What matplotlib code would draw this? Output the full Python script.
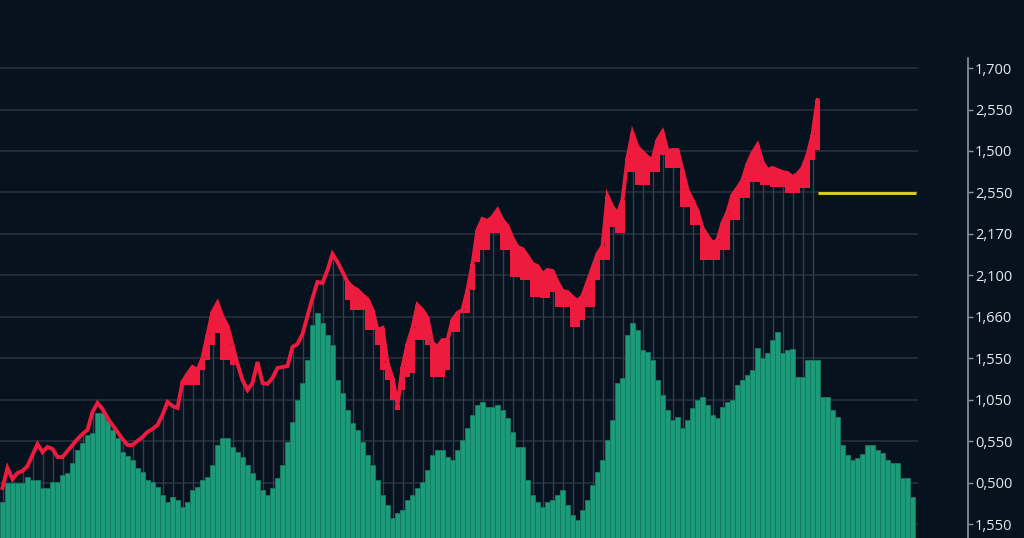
import numpy as np
import matplotlib
matplotlib.use("Agg")
import matplotlib.pyplot as plt

# heights on a 0..538 scale, one value per bar slot
volume = [36, 55, 55, 55, 55, 61, 58, 58, 50, 50,
          56, 56, 63, 65, 75, 88, 95, 103, 105, 125,
          125, 118, 108, 100, 86, 82, 78, 70, 66, 58,
          56, 51, 43, 36, 41, 38, 31, 36, 48, 51,
          58, 61, 73, 93, 100, 100, 91, 86, 81, 73,
          65, 58, 48, 43, 50, 60, 73, 96, 116, 138,
          155, 178, 213, 225, 215, 203, 193, 158, 145, 128,
          115, 108, 96, 83, 73, 58, 43, 33, 20, 25,
          28, 38, 43, 50, 56, 68, 83, 88, 88, 81,
          78, 88, 98, 110, 123, 133, 136, 131, 131, 133,
          128, 120, 106, 91, 91, 58, 43, 36, 31, 36,
          38, 43, 48, 33, 23, 18, 28, 38, 53, 66,
          78, 98, 118, 155, 160, 203, 215, 208, 188, 186,
          178, 158, 143, 128, 118, 121, 110, 118, 130, 138,
          141, 133, 123, 120, 131, 136, 138, 153, 158, 163,
          168, 190, 180, 185, 198, 206, 185, 188, 189, 161,
          161, 178, 178, 178, 141, 141, 128, 121, 93, 83,
          78, 80, 84, 93, 93, 88, 85, 78, 75, 75,
          60, 60, 41]

price = [50, 70, 59, 65, 67, 72, 83, 94, 86, 91,
         89, 81, 81, 87, 93, 99, 104, 108, 126, 135,
         129, 120, 113, 106, 99, 93, 93, 97, 101, 106,
         109, 113, 123, 136, 132, 130, 156, 164, 171, 168,
         180, 203, 226, 235, 221, 212, 193, 174, 158, 148,
         155, 176, 155, 154, 160, 170, 171, 172, 191, 194,
         204, 222, 240, 256, 255, 268, 284, 276, 266, 256,
         251, 248, 243, 239, 228, 208, 210, 175, 160, 133,
         171, 194, 210, 233, 228, 220, 195, 191, 198, 198,
         218, 225, 228, 248, 274, 308, 319, 317, 321, 328,
         318, 312, 300, 291, 289, 282, 274, 272, 264, 268,
         267, 256, 247, 246, 241, 237, 242, 256, 270, 284,
         292, 342, 331, 324, 338, 380, 405, 391, 386, 381,
         378, 398, 406, 387, 388, 388, 368, 348, 338, 327,
         310, 302, 295, 298, 315, 326, 343, 350, 358, 374,
         385, 393, 376, 368, 370, 368, 366, 365, 361, 364,
         370, 383, 403, 438]

low = (price[:36]
       + [153, 153, 153, 153, 168, 178, 193, 205, 178, 178, 173, 173]
       + price[48:69]
       + [238, 228, 228, 228, 208, 208, 193, 168, 158, 138, 128,
          148, 161, 165, 198, 198, 193, 161, 161, 161, 168,
          206, 206, 225, 225, 248, 276, 288, 288, 305, 305,
          288, 288, 261, 261, 258, 258, 241, 241, 240, 240,
          246, 231, 231, 231, 211, 211, 218, 231, 231, 258,
          278, 278, 311, 305, 305, 366, 366, 353, 353, 353,
          366, 366, 383, 370, 370, 370, 331, 331, 313, 313,
          278, 278, 278, 278, 288, 288, 318, 318, 340, 340,
          356, 356, 353, 353, 351, 351, 351, 345, 345, 345,
          350, 350, 378, 388])

tick_labels = ["1,550", "0,500", "0,550", "1,050", "1,550", "1,660",
               "2,100", "2,170", "2,550", "1,500", "2,550", "1,700"]
level = 345  # yellow marker, at the "2,550" line

bg = "#06131f"
red = "#ee1b3e"
green = "#1b9b79"

fig = plt.figure(figsize=(10.24, 5.38), dpi=100, facecolor=bg)
ax = fig.add_axes([0, 0, 968 / 1024, 1])
ax.set_facecolor(bg)

x_vol = np.arange(len(volume))
x_pr = np.arange(len(price))
price_a = np.array(price)
low_a = np.array(low)
right_end = len(volume) + 0.1

ax.set_xlim(-0.5, 968 / 5 - 0.5)
ax.set_ylim(0, 538)
ticks = 14 + 41.45 * np.arange(len(tick_labels))

# horizontal grid
ax.hlines(ticks, -0.5, right_end, color="#27333f", lw=1.1, zorder=1)

# faint verticals under the price
ax.vlines(x_pr[::2], 0, price_a[::2], color="#3d3952", lw=1.0, zorder=2)

# volume bars
ax.bar(x_vol, volume, width=1.0, color=green, edgecolor="#157a60",
       linewidth=0.6, zorder=3)

# price bodies and line
ax.bar(x_pr, price_a - low_a, bottom=low_a, width=0.9, color=red,
       linewidth=0, zorder=4)
ax.plot(x_pr, price_a, color=red, lw=2.8, zorder=5, solid_joinstyle="miter")

# yellow level line
ax.hlines(level, x_pr[-1], right_end - 0.5, color="#e6d81c", lw=2, zorder=5)

for s in ["top", "left", "bottom"]:
    ax.spines[s].set_visible(False)
ax.spines["right"].set_color("#8c96a2")
ax.spines["right"].set_linewidth(1.2)
ax.spines["right"].set_bounds(0, 480)
ax.set_xticks([])
ax.yaxis.tick_right()
ax.set_yticks(ticks)
ax.set_yticklabels(tick_labels)
ax.tick_params(axis="y", colors="#8c96a2", length=3.5, width=1, pad=1.5,
               labelcolor="#e4e9ef", labelsize=10.5)
for lab in ax.get_yticklabels():
    lab.set_family(["Open Sans", "DejaVu Sans"])

fig.savefig("out.png", dpi=100, facecolor=bg)
